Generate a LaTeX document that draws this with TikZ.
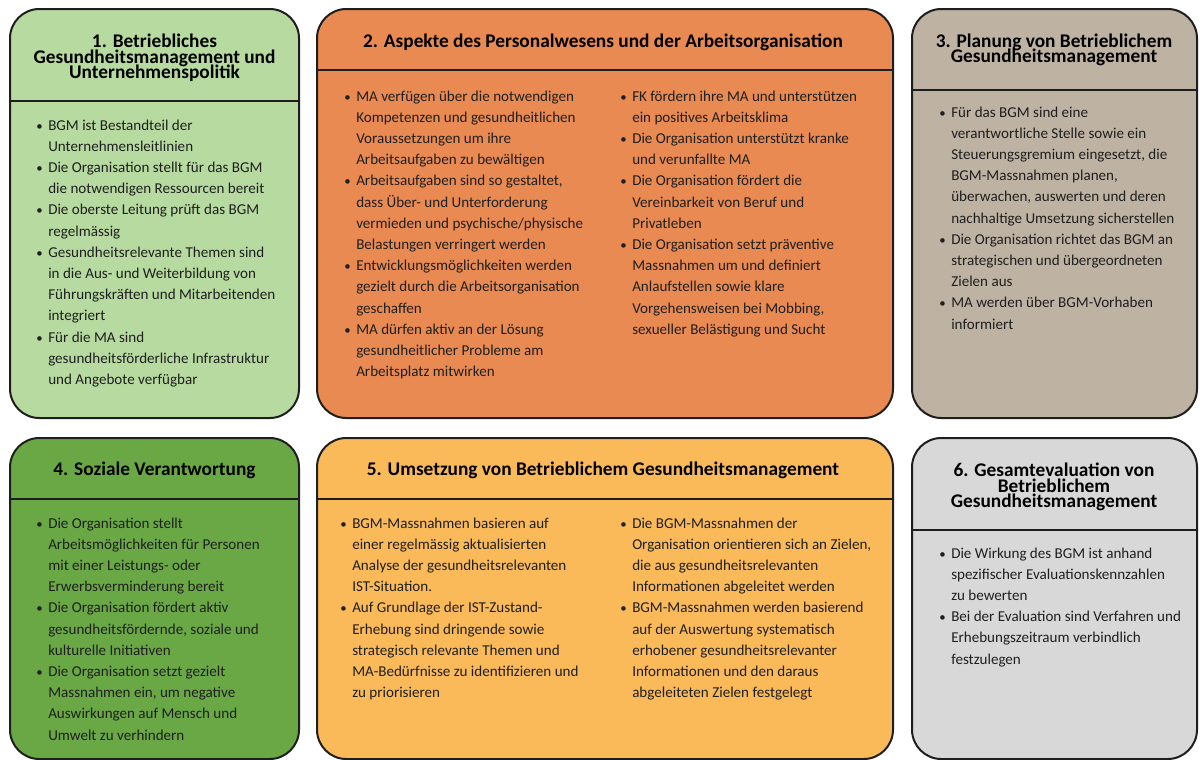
\documentclass[tikz,border=0pt]{standalone}
\usepackage{fontspec}
\setmainfont{Carlito}
\usepackage{tikz}
\usetikzlibrary{fit}
\definecolor{policy}{HTML}{B7DAA0}
\definecolor{staff}{HTML}{E88A52}
\definecolor{planning}{HTML}{BEB2A2}
\definecolor{social}{HTML}{6AA846}
\definecolor{rollout}{HTML}{FABA5A}
\definecolor{review}{HTML}{D8D8D8}
\definecolor{frame}{HTML}{1E1E1E}
\tikzset{
  panel/.style={rounded corners=22pt, draw=frame, line width=1.5pt, inner sep=0pt, outer sep=0pt},
  divider/.style={draw=frame, line width=1.5pt},
  head/.style={
    font={\fontsize{14.5}{11.6}\selectfont\bfseries\lineskiplimit=-20pt},
    align=center,
    inner sep=0pt,
    text=black
  },
  body/.style={
    font=\fontsize{11.3}{15.9}\selectfont,
    anchor=base west,
    inner sep=0pt,
    text=black!88
  }
}
\newcommand{\bul}{\scalebox{0.85}{\textbullet}}
\newenvironment{bgmlist}{\begin{tabular}[t]{@{}p{9pt}@{}l@{}}}{\end{tabular}}

\begin{document}
\begin{tikzpicture}[x=0.75pt,y=-0.75pt]
\path[use as bounding box] (0,0) rectangle (1200,760);

% top row
\node[panel, fill=policy, fit={(10,9) (299,418)}] (p1) {};
\node[panel, fill=staff, fit={(317,9) (893,418)}] (p2) {};
\node[panel, fill=planning, fit={(912,9) (1197,418)}] (p3) {};
\draw[divider] (p1.west |- 0,101) -- (p1.east |- 0,101);
\draw[divider] (p2.west |- 0,70) -- (p2.east |- 0,70);
\draw[divider] (p3.west |- 0,90) -- (p3.east |- 0,90);

\node[head] (h1) at (154.5,58) {1. Betriebliches\\Gesundheitsmanagement und\\Unternehmenspolitik};
\node[head] (h2) at (603,42) {2. Aspekte des Personalwesens und der Arbeitsorganisation};
\node[head] (h3) at (1054,50) {3. Planung von Betrieblichem\\Gesundheitsmanagement};

\node[body] (l1) at (36,130) {\begin{bgmlist}
\bul & BGM ist Bestandteil der\\
     & Unternehmensleitlinien\\
\bul & Die Organisation stellt für das BGM\\
     & die notwendigen Ressourcen bereit\\
\bul & Die oberste Leitung prüft das BGM\\
     & regelmässig\\
\bul & Gesundheitsrelevante Themen sind\\
     & in die Aus- und Weiterbildung von\\
     & Führungskräften und Mitarbeitenden\\
     & integriert\\
\bul & Für die MA sind\\
     & gesundheitsförderliche Infrastruktur\\
     & und Angebote verfügbar
\end{bgmlist}};

\node[body] (l2a) at (344,101) {\begin{bgmlist}
\bul & MA verfügen über die notwendigen\\
     & Kompetenzen und gesundheitlichen\\
     & Voraussetzungen um ihre\\
     & Arbeitsaufgaben zu bewältigen\\
\bul & Arbeitsaufgaben sind so gestaltet,\\
     & dass Über- und Unterforderung\\
     & vermieden und psychische/physische\\
     & Belastungen verringert werden\\
\bul & Entwicklungsmöglichkeiten werden\\
     & gezielt durch die Arbeitsorganisation\\
     & geschaffen\\
\bul & MA dürfen aktiv an der Lösung\\
     & gesundheitlicher Probleme am\\
     & Arbeitsplatz mitwirken
\end{bgmlist}};

\node[body] (l2b) at (620,101) {\begin{bgmlist}
\bul & FK fördern ihre MA und unterstützen\\
     & ein positives Arbeitsklima\\
\bul & Die Organisation unterstützt kranke\\
     & und verunfallte MA\\
\bul & Die Organisation fördert die\\
     & Vereinbarkeit von Beruf und\\
     & Privatleben\\
\bul & Die Organisation setzt präventive\\
     & Massnahmen um und definiert\\
     & Anlaufstellen sowie klare\\
     & Vorgehensweisen bei Mobbing,\\
     & sexueller Belästigung und Sucht
\end{bgmlist}};

\node[body] (l3) at (939,117) {\begin{bgmlist}
\bul & Für das BGM sind eine\\
     & verantwortliche Stelle sowie ein\\
     & Steuerungsgremium eingesetzt, die\\
     & BGM-Massnahmen planen,\\
     & überwachen, auswerten und deren\\
     & nachhaltige Umsetzung sicherstellen\\
\bul & Die Organisation richtet das BGM an\\
     & strategischen und übergeordneten\\
     & Zielen aus\\
\bul & MA werden über BGM-Vorhaben\\
     & informiert
\end{bgmlist}};

% bottom row
\node[panel, fill=social, fit={(10,438) (299,759)}] (p4) {};
\node[panel, fill=rollout, fit={(317,438) (893,759)}] (p5) {};
\node[panel, fill=review, fit={(912,438) (1197,759)}] (p6) {};
\draw[divider] (p4.west |- 0,499) -- (p4.east |- 0,499);
\draw[divider] (p5.west |- 0,499) -- (p5.east |- 0,499);
\draw[divider] (p6.west |- 0,530) -- (p6.east |- 0,530);

\node[head] (h4) at (154.5,470) {4. Soziale Verantwortung};
\node[head] (h5) at (603,470) {5. Umsetzung von Betrieblichem Gesundheitsmanagement};
\node[head] (h6) at (1054,487) {6. Gesamtevaluation von\\Betrieblichem\\Gesundheitsmanagement};

\node[body] (l4) at (36,528) {\begin{bgmlist}
\bul & Die Organisation stellt\\
     & Arbeitsmöglichkeiten für Personen\\
     & mit einer Leistungs- oder\\
     & Erwerbsverminderung bereit\\
\bul & Die Organisation fördert aktiv\\
     & gesundheitsfördernde, soziale und\\
     & kulturelle Initiativen\\
\bul & Die Organisation setzt gezielt\\
     & Massnahmen ein, um negative\\
     & Auswirkungen auf Mensch und\\
     & Umwelt zu verhindern
\end{bgmlist}};

\node[body] (l5a) at (340,528) {\begin{bgmlist}
\bul & BGM-Massnahmen basieren auf\\
     & einer regelmässig aktualisierten\\
     & Analyse der gesundheitsrelevanten\\
     & IST-Situation.\\
\bul & Auf Grundlage der IST-Zustand-\\
     & Erhebung sind dringende sowie\\
     & strategisch relevante Themen und\\
     & MA-Bedürfnisse zu identifizieren und\\
     & zu priorisieren
\end{bgmlist}};

\node[body] (l5b) at (620,528) {\begin{bgmlist}
\bul & Die BGM-Massnahmen der\\
     & Organisation orientieren sich an Zielen,\\
     & die aus gesundheitsrelevanten\\
     & Informationen abgeleitet werden\\
\bul & BGM-Massnahmen werden basierend\\
     & auf der Auswertung systematisch\\
     & erhobener gesundheitsrelevanter\\
     & Informationen und den daraus\\
     & abgeleiteten Zielen festgelegt
\end{bgmlist}};

\node[body] (l6) at (939,558) {\begin{bgmlist}
\bul & Die Wirkung des BGM ist anhand\\
     & spezifischer Evaluationskennzahlen\\
     & zu bewerten\\
\bul & Bei der Evaluation sind Verfahren und\\
     & Erhebungszeitraum verbindlich\\
     & festzulegen
\end{bgmlist}};
\end{tikzpicture}
\end{document}
